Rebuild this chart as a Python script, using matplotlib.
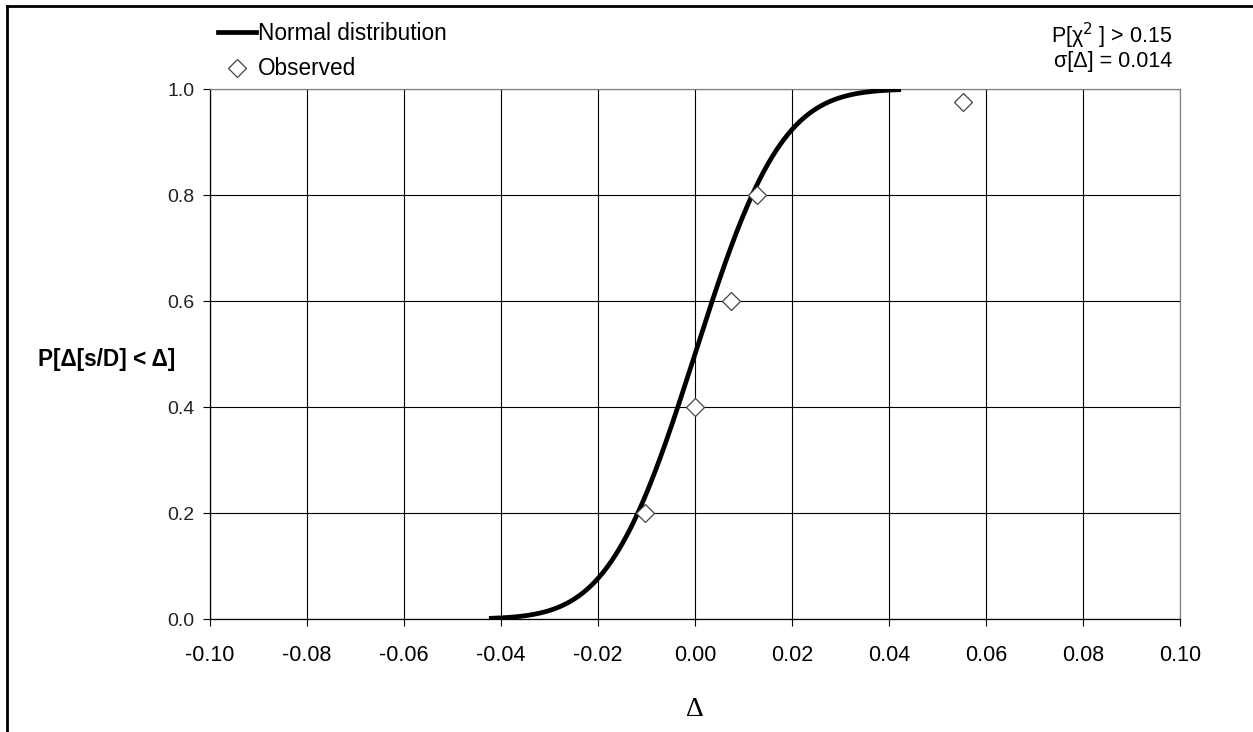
import numpy as np
import matplotlib.pyplot as plt
from matplotlib.lines import Line2D
from math import erf, sqrt

plt.rcParams['font.family'] = ['Liberation Sans', 'DejaVu Sans']

# fitted normal distribution
mu = 0.0
sigma = 0.014

# observed points
obs_delta = [-0.0103, 0.0001, 0.0074, 0.0128, 0.0553]
obs_prob = [0.2, 0.4, 0.6, 0.8, 0.976]

x_ticks = [-0.10, -0.08, -0.06, -0.04, -0.02, 0.00, 0.02, 0.04, 0.06, 0.08, 0.10]
y_ticks = [0.0, 0.2, 0.4, 0.6, 0.8, 1.0]

# normal CDF over +/- 3 sigma
xs = np.linspace(mu - 3 * sigma, mu + 3 * sigma, 300)
cdf = [0.5 * (1 + erf((x - mu) / (sigma * sqrt(2)))) for x in xs]

fig = plt.figure(figsize=(12.53, 7.32), dpi=100)
ax = fig.add_axes([210 / 1253, 1 - 619 / 732, 970 / 1253, 530 / 732])

ax.plot(xs, cdf, color='black', linewidth=3.4, label='Normal distribution', zorder=3)
ax.plot(obs_delta, obs_prob, linestyle='none', marker='D', markersize=9,
        markerfacecolor='white', markeredgecolor='#444444', markeredgewidth=0.9,
        label='Observed', zorder=4)

ax.set_xlim(-0.10, 0.10)
ax.set_ylim(0.0, 1.0)
ax.set_xticks(x_ticks)
ax.set_yticks(y_ticks)
ax.set_xticklabels([f"{t:.2f}" for t in x_ticks])
ax.set_yticklabels([f"{t:.1f}" for t in y_ticks])
ax.tick_params(axis='x', labelsize=15.5, direction='out', length=5, width=0.8, pad=14)
ax.tick_params(axis='y', labelsize=14, direction='out', length=5, width=0.8, pad=6,
               labelcolor='#222222')
ax.grid(True, color='black', linewidth=0.8)

for side in ['left', 'bottom']:
    ax.spines[side].set_color('black')
    ax.spines[side].set_linewidth(0.9)
for side in ['top', 'right']:
    ax.spines[side].set_color('#808080')
    ax.spines[side].set_linewidth(0.9)

ax.set_xlabel('Δ', fontsize=20, family='Liberation Serif', labelpad=22)
ax.set_ylabel('P[Δ[s/D] < Δ]', fontsize=16.3, fontweight='bold', rotation=0,
              va='center', ha='center')
ax.yaxis.set_label_coords(-0.107, 0.489)

leg = ax.legend(loc='upper left', bbox_to_anchor=(218 / 1253, 1 - 22 / 732),
                bbox_transform=fig.transFigure, frameon=False, fontsize=16.3,
                handlelength=1.7, handletextpad=0.05, labelspacing=0.55,
                borderpad=0, borderaxespad=0)

fig.text(1172 / 1253, 1 - 36 / 732, 'P[χ$^2$ ] > 0.15', ha='right', va='center',
         fontsize=15.5)
fig.text(1172 / 1253, 1 - 61 / 732, 'σ[Δ] = 0.014', ha='right', va='center',
         fontsize=15.5)

# outer frame (left and top edges visible)
fig.add_artist(Line2D([7 / 1253, 7 / 1253], [0, 1 - 6 / 732], color='black',
                      linewidth=2, transform=fig.transFigure))
fig.add_artist(Line2D([7 / 1253, 1], [1 - 6 / 732, 1 - 6 / 732], color='black',
                      linewidth=2, transform=fig.transFigure))

fig.savefig('out.png', dpi=100)
